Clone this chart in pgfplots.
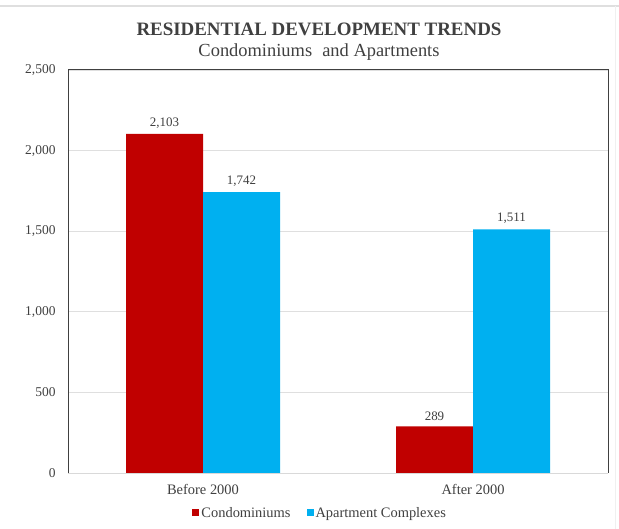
\documentclass[border=0pt]{standalone}
\usepackage{pgfplots}
\pgfplotsset{compat=1.18}
\usepackage{fontspec}
\setmainfont{Liberation Serif}
\definecolor{cred}{HTML}{C00000}
\definecolor{ccyan}{HTML}{00B0F0}
\definecolor{tgray}{HTML}{404040}
\begin{document}
\begin{tikzpicture}[x=1bp,y=1bp]
\useasboundingbox[fill=white] (0,0) rectangle (619,529);
\draw[gray!25, line width=1.5bp] (0,523) -- (619,523);
\draw[gray!12, line width=1bp] (615,523) -- (615,0);
\begin{axis}[
  at={(68bp,56bp)}, anchor=south west,
  scale only axis, width=540bp, height=403bp,
  ybar, bar width=77bp,
  xmin=-0.5, xmax=1.5, ymin=0, ymax=2500,
  xtick={0,1}, xticklabels={Before 2000, After 2000},
  ytick={0,500,1000,1500,2000,2500},
  yticklabel style={/pgf/number format/1000 sep={,}, font=\fontsize{13.5}{15}\selectfont, text=tgray, xshift=-9bp},
  /pgf/number format/assume math mode=true,
  xticklabel style={font=\fontsize{14.5}{16}\selectfont, text=tgray, yshift=-8bp},
  major tick length=0pt,
  ymajorgrids, grid style={gray!25, line width=0.8bp},
  axis line style={draw=none},
  nodes near coords,
  nodes near coords style={font=\fontsize{13}{15}\selectfont, text=tgray, /pgf/number format/1000 sep={,}, /pgf/number format/assume math mode=true, yshift=2bp},
  legend style={at={(0.467,-0.099)}, anchor=center, draw=none, legend columns=2, font=\fontsize{14.5}{16}\selectfont, text=tgray, /tikz/every even column/.append style={column sep=14bp}},
  legend image code/.code={\fill[#1] (0bp,-3.5bp) rectangle (7bp,3.5bp);},
  clip=false,
]
\addplot[fill=cred, draw=none, bar shift=-38.5bp] coordinates {(0,2103) (1,289)};
\addlegendentry{Condominiums}
\addplot[fill=ccyan, draw=none, bar shift=38.5bp] coordinates {(0,1742) (1,1511)};
\addlegendentry{Apartment Complexes}
\draw[gray!30, line width=0.9bp] (rel axis cs:0,0) -- (rel axis cs:1,0);
\draw[tgray, line width=1bp] (rel axis cs:0,0) -- (rel axis cs:0,1) -- (rel axis cs:1,1) -- (rel axis cs:1,0);
\end{axis}
\node[text=tgray, font=\bfseries\fontsize{19}{22}\selectfont] at (319,500) {RESIDENTIAL DEVELOPMENT TRENDS};
\node[text=tgray, font=\fontsize{18.5}{22}\selectfont] at (319,477) {Condominiums\hspace{0.3em} and Apartments};
\end{tikzpicture}
\end{document}
